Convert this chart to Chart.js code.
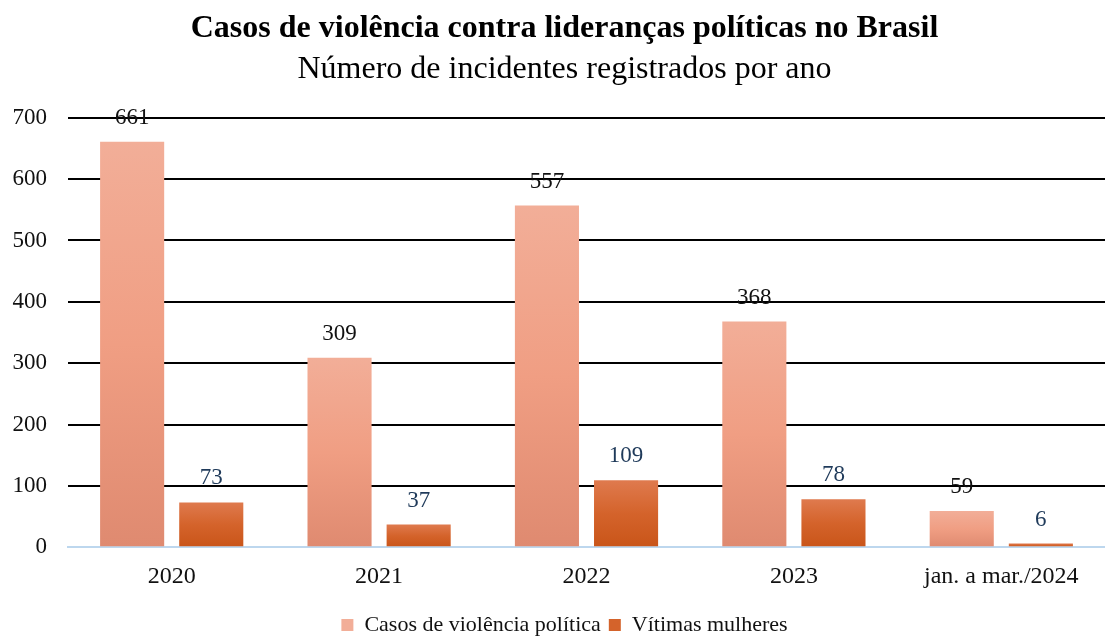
<!DOCTYPE html>
<html>
<head>
<meta charset="utf-8">
<script src="https://cdn.jsdelivr.net/npm/chart.js@4"></script>
<style>
  html, body { margin: 0; padding: 0; background: #fff; }
  #wrap { width: 1105px; height: 637px; }
</style>
</head>
<body>
<div id="wrap"><canvas id="myBarChart"></canvas></div>
<script>
const categories = ['2020', '2021', '2022', '2023', 'jan. a mar./2024'];
const casosViolencia = [661, 309, 557, 368, 59];
const vitimasMulheres = [73, 37, 109, 78, 6];
const yTicks = [0, 100, 200, 300, 400, 500, 600, 700];

const serif = "'Liberation Serif', 'Times New Roman', serif";

// gradient per bar, from its top down to zero
function barGradient(top, mid, bottom) {
    return function (context) {
        const chart = context.chart;
        const y = chart.scales.y;
        if (!y || context.type !== 'data') return mid;
        const value = context.dataset.data[context.dataIndex];
        const y0 = y.getPixelForValue(value);
        const y1 = y.getPixelForValue(0);
        if (!isFinite(y0) || !isFinite(y1) || y0 === y1) return mid;
        const g = chart.ctx.createLinearGradient(0, y0, 0, y1);
        g.addColorStop(0, top);
        g.addColorStop(0.5, mid);
        g.addColorStop(1, bottom);
        return g;
    };
}

// value labels above bars
const valueLabels = {
    id: 'valueLabels',
    afterDatasetsDraw(chart) {
        const ctx = chart.ctx;
        ctx.save();
        ctx.font = '23px ' + serif;
        ctx.textAlign = 'center';
        ctx.textBaseline = 'middle';
        chart.data.datasets.forEach((ds, i) => {
            const meta = chart.getDatasetMeta(i);
            ctx.fillStyle = i === 0 ? '#111111' : '#1f3a5a';
            meta.data.forEach((bar, j) => {
                ctx.fillText(ds.data[j], bar.x, bar.y - 24);
            });
        });
        ctx.restore();
    }
};

const ctx = document.getElementById('myBarChart').getContext('2d');

const data = {
    labels: categories,
    datasets: [{
        label: 'Casos de violência política',
        data: casosViolencia,
        backgroundColor: barGradient('#f2ae98', '#f09e83', '#df8a70'),
        borderWidth: 0
    }, {
        label: 'Vítimas mulheres',
        data: vitimasMulheres,
        backgroundColor: barGradient('#df7a4e', '#d4632b', '#c95519'),
        borderWidth: 0
    }]
};

const config = {
    type: 'bar',
    data: data,
    options: {
        responsive: true,
        maintainAspectRatio: false,
        animation: false,
        categoryPercentage: 0.763,
        barPercentage: 0.81,
        layout: { padding: { left: 12, right: -12, top: 0, bottom: -9 } },
        scales: {
            x: {
                grid: { display: false, drawTicks: false },
                border: { color: '#bdd7ee', width: 2 },
                ticks: {
                    color: '#111',
                    font: { family: serif, size: 24 },
                    padding: 15,
                    autoSkip: false,
                    maxRotation: 0
                }
            },
            y: {
                min: 0,
                max: 700,
                afterBuildTicks(axis) { axis.ticks = yTicks.map(v => ({ value: v })); },
                afterFit(axis) { axis.width = 56; },
                grid: { color: '#000', lineWidth: 2, drawTicks: false },
                border: { display: false },
                ticks: { color: '#111', font: { family: serif, size: 23 }, padding: 21 }
            }
        },
        plugins: {
            legend: {
                position: 'bottom',
                labels: {
                    color: '#111',
                    font: { family: serif, size: 22 },
                    boxWidth: 12,
                    boxHeight: 12,
                    padding: 8,
                    generateLabels(chart) {
                        const fills = ['#f2ae98', '#d4632b'];
                        return chart.data.datasets.map((ds, i) => ({
                            text: ds.label,
                            fillStyle: fills[i],
                            strokeStyle: fills[i],
                            lineWidth: 0,
                            datasetIndex: i,
                            fontColor: '#111'
                        }));
                    }
                }
            },
            title: {
                display: true,
                text: 'Casos de violência contra lideranças políticas no Brasil',
                color: '#000',
                font: { family: serif, size: 32, weight: 'bold' },
                padding: { top: 10, bottom: 0 }
            },
            subtitle: {
                display: true,
                text: 'Número de incidentes registrados por ano',
                color: '#000',
                font: { family: serif, size: 32, weight: 'normal' },
                padding: { top: 2, bottom: 29 }
            },
            tooltip: { enabled: false }
        }
    },
    plugins: [valueLabels]
};

const myBarChart = new Chart(ctx, config);
</script>
</body>
</html>
